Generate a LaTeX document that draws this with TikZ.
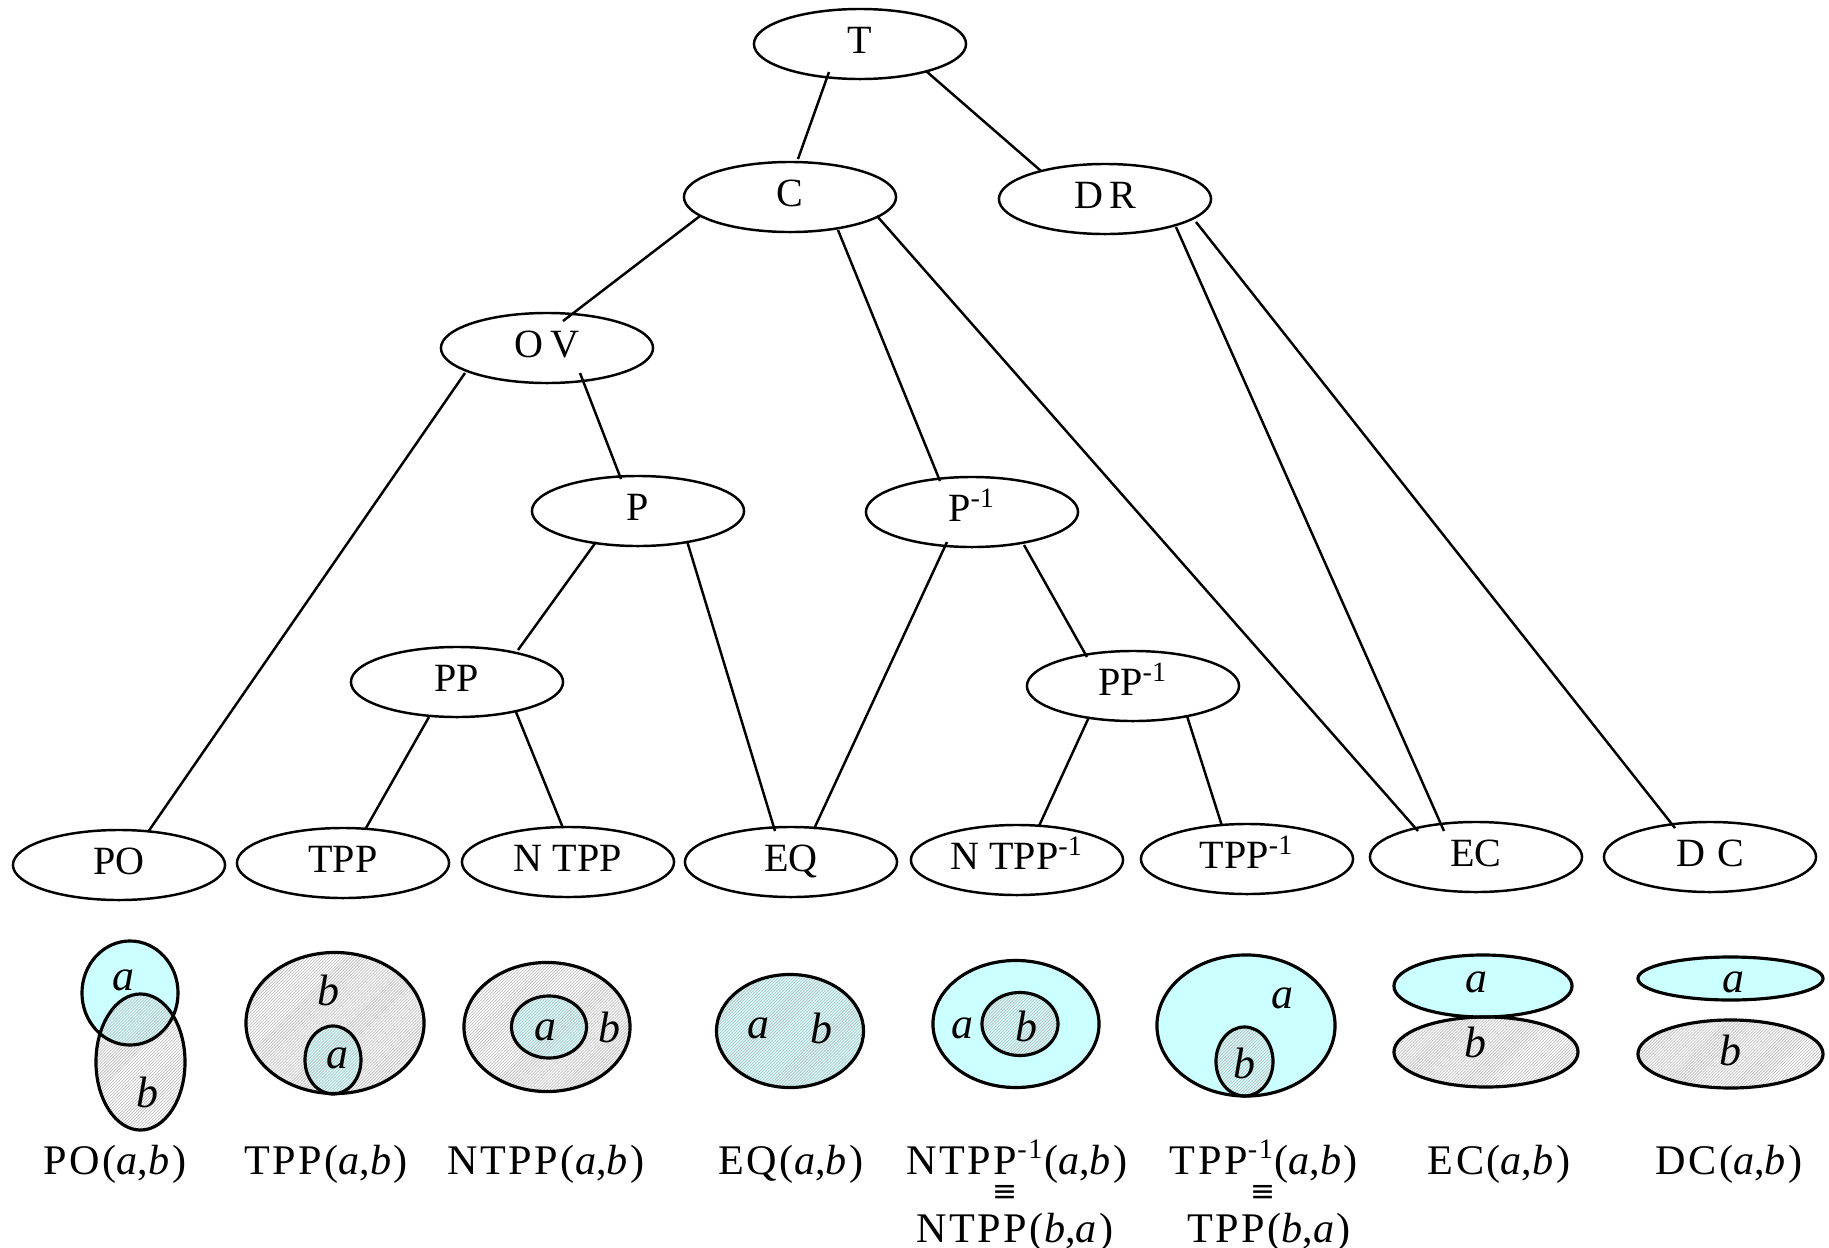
\documentclass[tikz,border=0pt]{standalone}
\usepackage{fontspec}
\setmainfont{Liberation Serif}
\newfontfamily\spacedfont[LetterSpace=6]{Liberation Serif}
\newfontfamily\symfont{DejaVu Sans}
\usetikzlibrary{shapes.geometric,patterns,calc}
\definecolor{lcyan}{HTML}{CCFFFF}
\pgfdeclarepatternformonly{fhatch}{\pgfqpoint{-0.3pt}{-0.3pt}}{\pgfqpoint{1.2pt}{1.2pt}}{\pgfqpoint{0.85pt}{0.85pt}}{%
  \pgfsetlinewidth{0.22pt}%
  \pgfpathmoveto{\pgfqpoint{-0.05pt}{-0.05pt}}%
  \pgfpathlineto{\pgfqpoint{0.9pt}{0.9pt}}%
  \pgfusepath{stroke}%
}
\begin{document}
\begin{tikzpicture}[x=0.01cm,y=-0.01cm,
  rel/.style={ellipse,draw,line width=0.7pt,minimum width=2.12cm,minimum height=0.70cm,inner sep=0pt,
    text height=0.18cm,text depth=0pt,font=\fontsize{11.4}{13}\selectfont},
  conn/.style={line width=0.7pt},
  reg/.style={line width=0.9pt},
  hatchfill/.style={pattern=fhatch,pattern color=gray!45},
  lett/.style={inner sep=0pt,font=\fontsize{12.5}{14}\selectfont\itshape},
  captxt/.style={anchor=base,inner sep=0pt,font=\spacedfont\fontsize{12}{14}\selectfont},
  eqv/.style={anchor=base,inner sep=0pt,font=\symfont\fontsize{8.5}{9}\selectfont}
]
\useasboundingbox (0,0) rectangle (1829,1248);

% ---- hierarchy nodes
\node[rel] (T) at (860,44) {T};
\node[rel] (C) at (790,197) {C};
\node[rel] (DR) at (1105,199) {D\hspace{0.15em}R};
\node[rel] (OV) at (547,348) {O\hspace{0.2em}V};
\node[rel] (P) at (638,511) {P};
\node[rel] (Pi) at (972,512) {P\textsuperscript{-1}};
\node[rel] (PP) at (457,682) {PP};
\node[rel] (PPi) at (1133,686) {PP\textsuperscript{-1}};
\node[rel] (PO) at (119,865) {PO};
\node[rel] (TPP) at (343,863) {TPP};
\node[rel] (NTPP) at (568,862) {N\hspace{0.25em}TPP};
\node[rel] (EQ) at (791,862) {EQ};
\node[rel] (NTPPi) at (1017,860) {N\hspace{0.25em}TPP\textsuperscript{-1}};
\node[rel] (TPPi) at (1247,859) {TPP\textsuperscript{-1}};
\node[rel] (EC) at (1476,857) {EC};
\node[rel] (DC) at (1710,857) {D\hspace{0.3em}C};

% ---- connectors
\draw[conn] ($(T)+(-31,28)$) -- ($(C)+(8,-38)$);
\draw[conn] ($(T)+(66,27)$) -- ($(DR)+(-64,-28)$);
\draw[conn] ($(C)+(-90,19)$) -- ($(OV)+(16,-27)$);
\draw[conn] ($(C)+(48,33)$) -- ($(Pi)+(-32,-31)$);
\draw[conn] ($(C)+(87,19)$) -- ($(EC)+(-58,-26)$);
\draw[conn] ($(DR)+(71,28)$) -- ($(EC)+(-32,-26)$);
\draw[conn] ($(DR)+(91,23)$) -- ($(DC)+(-35,-29)$);
\draw[conn] ($(OV)+(-82,25)$) -- ($(PO)+(29,-33)$);
\draw[conn] ($(OV)+(33,25)$) -- ($(P)+(-17,-32)$);
\draw[conn] ($(P)+(-42,31)$) -- ($(PP)+(61,-32)$);
\draw[conn] ($(P)+(49,30)$) -- ($(EQ)+(-16,-31)$);
\draw[conn] ($(Pi)+(-25,30)$) -- ($(EQ)+(23,-33)$);
\draw[conn] ($(Pi)+(52,33)$) -- ($(PPi)+(-46,-29)$);
\draw[conn] ($(PP)+(-28,35)$) -- ($(TPP)+(23,-35)$);
\draw[conn] ($(PP)+(59,30)$) -- ($(NTPP)+(-5,-34)$);
\draw[conn] ($(PPi)+(-44,31)$) -- ($(NTPPi)+(22,-34)$);
\draw[conn] ($(PPi)+(54,30)$) -- ($(TPPi)+(-25,-33)$);

% ---- region pictures
% PO
\fill[lcyan] (130,993) ellipse (0.48cm and 0.52cm);
\fill[hatchfill] (140.5,1062) ellipse (0.445cm and 0.68cm);
\draw[reg] (130,993) ellipse (0.48cm and 0.52cm);
\draw[reg] (140.5,1062) ellipse (0.445cm and 0.68cm);
\node[lett] (POa) at (123,980) {a};
\node[lett] (POb) at (147,1092) {b};
% TPP
\fill[lcyan] (333,1060) ellipse (0.28cm and 0.34cm);
\fill[hatchfill] (335,1023) ellipse (0.89cm and 0.705cm);
\draw[reg] (335,1023) ellipse (0.89cm and 0.705cm);
\draw[reg] (333,1060) ellipse (0.28cm and 0.34cm);
\node[lett] (TPPb) at (328,990) {b};
\node[lett] (TPPa) at (337,1058) {a};
% NTPP
\fill[lcyan] (549,1027) ellipse (0.375cm and 0.31cm);
\fill[hatchfill] (547,1027) ellipse (0.83cm and 0.645cm);
\draw[reg] (547,1027) ellipse (0.83cm and 0.645cm);
\draw[reg] (549,1027) ellipse (0.375cm and 0.31cm);
\node[lett] (NTPPa) at (545,1030) {a};
\node[lett] (NTPPb) at (609,1027) {b};
% EQ
\fill[lcyan] (790,1031) ellipse (0.735cm and 0.565cm);
\fill[hatchfill] (790,1031) ellipse (0.735cm and 0.565cm);
\draw[reg] (790,1031) ellipse (0.735cm and 0.565cm);
\node[lett] (EQa) at (758,1028) {a};
\node[lett] (EQb) at (821,1028) {b};
% NTPP^-1
\fill[lcyan] (1016,1024) ellipse (0.83cm and 0.635cm);
\fill[hatchfill] (1020,1024) ellipse (0.38cm and 0.315cm);
\draw[reg] (1016,1024) ellipse (0.83cm and 0.635cm);
\draw[reg] (1020,1024) ellipse (0.38cm and 0.315cm);
\node[lett] (NTPPia) at (962,1028) {a};
\node[lett] (NTPPib) at (1026,1026) {b};
% TPP^-1
\fill[lcyan] (1246,1025.5) ellipse (0.89cm and 0.705cm);
\fill[hatchfill] (1244.5,1061.5) ellipse (0.285cm and 0.345cm);
\draw[reg] (1246,1025.5) ellipse (0.89cm and 0.705cm);
\draw[reg] (1244.5,1061.5) ellipse (0.285cm and 0.345cm);
\node[lett] (TPPia) at (1282,998) {a};
\node[lett] (TPPib) at (1244,1063) {b};
% EC
\fill[lcyan] (1483,986) ellipse (0.89cm and 0.31cm);
\fill[hatchfill] (1486,1052) ellipse (0.92cm and 0.35cm);
\draw[reg] (1483,986) ellipse (0.89cm and 0.31cm);
\draw[reg] (1486,1052) ellipse (0.92cm and 0.35cm);
\node[lett] (ECa) at (1476,982) {a};
\node[lett] (ECb) at (1475,1042) {b};
% DC
\fill[lcyan] (1730.5,978.5) ellipse (0.925cm and 0.215cm);
\fill[hatchfill] (1730.5,1054) ellipse (0.925cm and 0.34cm);
\draw[reg] (1730.5,978.5) ellipse (0.925cm and 0.215cm);
\draw[reg] (1730.5,1054) ellipse (0.925cm and 0.34cm);
\node[lett] (DCa) at (1733,982) {a};
\node[lett] (DCb) at (1730,1050) {b};

% ---- captions
\node[captxt] (cPO) at (115,1174) {PO(\textit{a},\textit{b})};
\node[captxt] (cTPP) at (326,1174) {TPP(\textit{a},\textit{b})};
\node[captxt] (cNTPP) at (546,1174) {NTPP(\textit{a},\textit{b})};
\node[captxt] (cEQ) at (791,1174) {EQ(\textit{a},\textit{b})};
\node[captxt] (cNTPPi) at (1017,1174) {NTPP\textsuperscript{-1}(\textit{a},\textit{b})};
\node[captxt] (cTPPi) at (1264,1174) {TPP\textsuperscript{-1}(\textit{a},\textit{b})};
\node[captxt] (cEC) at (1499,1174) {EC(\textit{a},\textit{b})};
\node[captxt] (cDC) at (1729,1174) {DC(\textit{a},\textit{b})};
\node[eqv] (e1) at (1005,1201) {≡};
\node[eqv] (e2) at (1263,1201) {≡};
\node[captxt] (cNTPPba) at (1015,1242) {NTPP(\textit{b},\textit{a})};
\node[captxt] (cTPPba) at (1269,1242) {TPP(\textit{b},\textit{a})};
\end{tikzpicture}
\end{document}
